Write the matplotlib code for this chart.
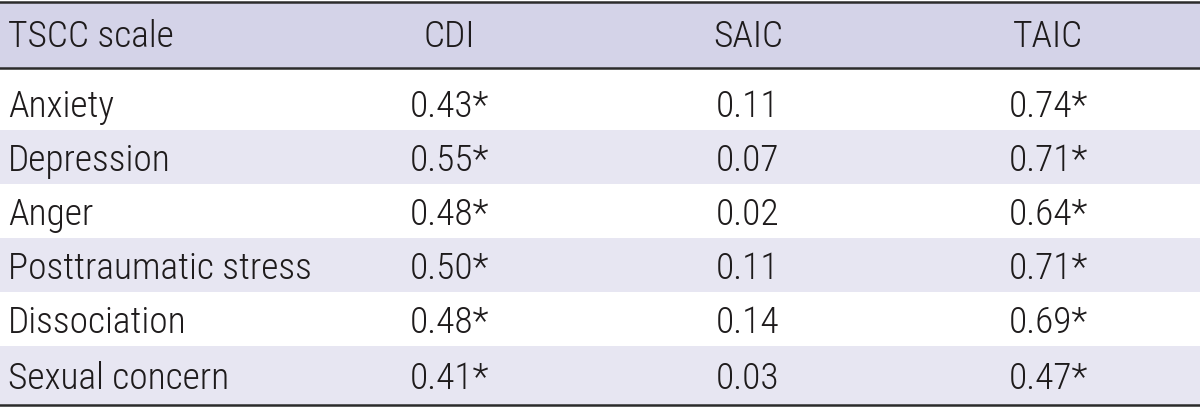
import matplotlib
matplotlib.use("Agg")
import matplotlib.pyplot as plt
from matplotlib import font_manager
from matplotlib.font_manager import FontProperties

columns = ["TSCC scale", "CDI", "SAIC", "TAIC"]
scales = ["Anxiety", "Depression", "Anger", "Posttraumatic stress", "Dissociation", "Sexual concern"]
cdi = ["0.43*", "0.55*", "0.48*", "0.50*", "0.48*", "0.41*"]
saic = ["0.11", "0.07", "0.02", "0.11", "0.14", "0.03"]
taic = ["0.74*", "0.71*", "0.64*", "0.71*", "0.69*", "0.47*"]

# choose a condensed sans-serif (light weight preferred) if one is installed
cands = []
for f in font_manager.fontManager.ttflist:
    fn = f.fname.lower()
    nm = f.name.lower()
    if f.style != "normal" or "italic" in fn or "oblique" in fn:
        continue
    if not ("narrow" in fn or "condensed" in fn or "narrow" in nm or "condensed" in nm):
        continue
    if "bold" in fn or "black" in fn or "medium" in fn or "thin" in fn or "extralight" in fn:
        continue
    w = f.weight if isinstance(f.weight, int) else 400
    wpen = 0 if w == 300 else (1 if w == 400 else 5)
    fam = 0 if "narrow" in fn else (1 if "roboto" in fn else 2)
    cands.append((wpen, fam, f.fname))
cands.sort()
if cands:
    base_fp = FontProperties(fname=cands[0][2])
else:
    base_fp = FontProperties(family="Liberation Sans")

W, H = 1200, 408
fig = plt.figure(figsize=(W / 100, H / 100), dpi=100)
ax = fig.add_axes([0, 0, 1, 1])
ax.set_xlim(0, W)
ax.set_ylim(H, 0)
ax.axis("off")

# size the text from the width of the longest label in the reference (slightly relaxed)
renderer = fig.canvas.get_renderer()
probe = ax.text(0, 0, "Posttraumatic stress", fontproperties=base_fp, fontsize=28)
wpx = probe.get_window_extent(renderer).width
probe.remove()
fs = min(27.0, 28.0 * 304.0 / wpx)
fp = base_fp.copy()
fp.set_size(fs)

header_col = "#d4d3e8"
shade_col = "#e7e6f2"
line_col = "#2b2b2b"
text_col = "#1e1b1c"

col_x = [8, 449, 748, 1048]
header_top, header_bot = 2, 68
row_edges = [68, 130, 184, 238, 292, 346, 405]

ax.add_patch(plt.Rectangle((0, header_top), W, header_bot - header_top, color=header_col, lw=0))
for i in range(len(scales)):
    if i % 2 == 1:
        ax.add_patch(plt.Rectangle((0, row_edges[i]), W, row_edges[i + 1] - row_edges[i], color=shade_col, lw=0))

ax.plot([0, W], [1.5, 1.5], color=line_col, lw=1.8)
ax.plot([0, W], [header_bot, header_bot], color=line_col, lw=1.8)
ax.plot([0, W], [row_edges[-1], row_edges[-1]], color=line_col, lw=1.8)

ty = 33
for j, c in enumerate(columns):
    ax.text(col_x[j], ty, c, ha="left" if j == 0 else "center", va="center_baseline",
            fontproperties=fp, color=text_col)

row_y = [103, 157, 211, 265, 319, 375]
for i, s in enumerate(scales):
    vals = [s, cdi[i], saic[i], taic[i]]
    for j, v in enumerate(vals):
        ax.text(col_x[j], row_y[i], v, ha="left" if j == 0 else "center", va="center_baseline",
                fontproperties=fp, color=text_col)

fig.savefig("out.png", dpi=100)
